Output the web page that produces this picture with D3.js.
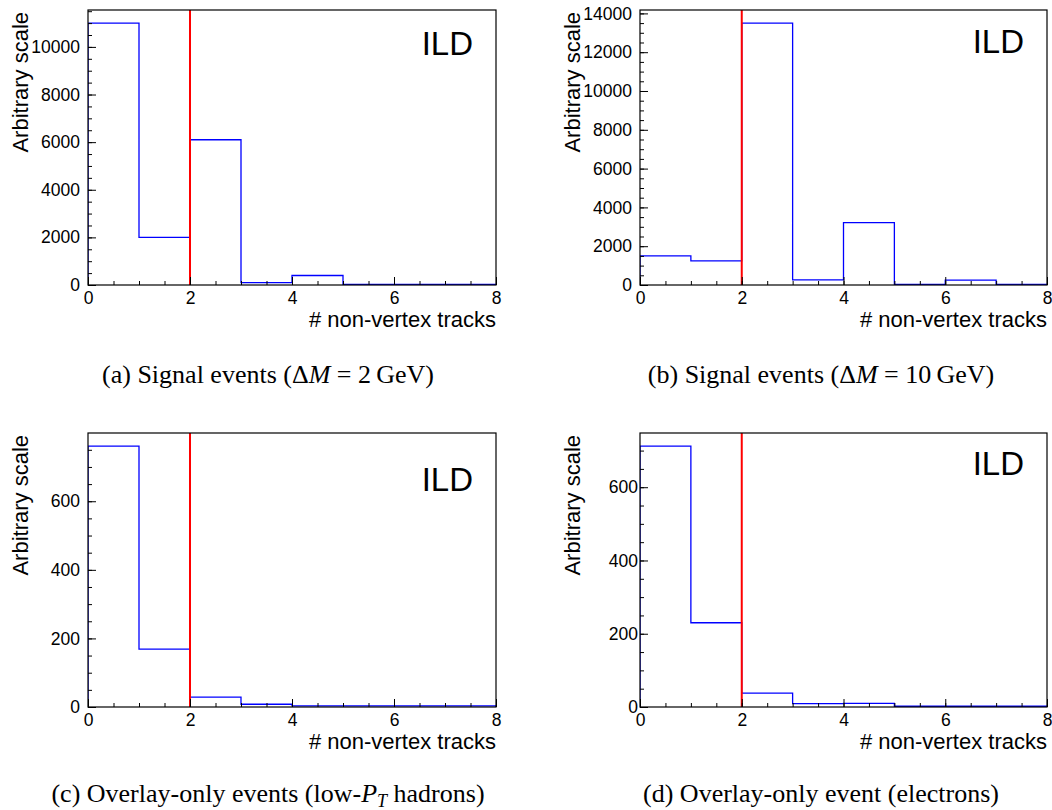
<!DOCTYPE html>
<html>
<head>
<meta charset="utf-8">
<script src="https://cdn.jsdelivr.net/npm/d3@7"></script>
<style>
  body { margin: 0; background: #fff; }
  svg text { font-family: "Liberation Sans", Arial, sans-serif; fill: #000; }
  .caption { font-family: "Liberation Serif", "Times New Roman", serif; font-size: 26px; }
</style>
</head>
<body>
<div class="svg-container"></div>
<script>
// bin contents, one array per panel (8 bins from 0 to 8)
const binsA = [11000, 2000, 6100, 100, 400, 30, 30, 30]
const binsB = [1500, 1240, 13500, 260, 3220, 30, 250, 30]
const binsC = [761, 169, 29, 8, 3, 3, 3, 3]
const binsD = [712, 230, 38, 9, 10, 2, 2, 2]

const yMax = [11550, 14175, 799, 748]
const yMajor = [
  [0, 2000, 4000, 6000, 8000, 10000],
  [0, 2000, 4000, 6000, 8000, 10000, 12000, 14000],
  [0, 200, 400, 600],
  [0, 200, 400, 600]
]
const yMinorStep = [500, 500, 50, 50]
const xMajor = [0, 2, 4, 6, 8]
const cutValue = 2

const width = 1052
const height = 810

// frame boxes of the four pads
const frames = [
  { x: 88, y: 10, w: 408, h: 275, labelGap: 8, ild: 45 },
  { x: 640, y: 10, w: 407, h: 275, labelGap: 8, ild: 43 },
  { x: 88, y: 433, w: 408, h: 274, labelGap: 8, ild: 58 },
  { x: 640, y: 433, w: 407, h: 274, labelGap: 2, ild: 42 }
]

const allBins = [binsA, binsB, binsC, binsD]

const svg = d3.select('.svg-container')
  .append('svg')
  .attr('width', width)
  .attr('height', height)

allBins.forEach((bins, k) => {
  const f = frames[k]
  const g = svg.append('g').attr('transform', `translate(${f.x}, ${f.y})`)

  const x = d3.scaleLinear().domain([0, 8]).range([0, f.w])
  const y = d3.scaleLinear().domain([0, yMax[k]]).range([f.h, 0])

  g.append('clipPath').attr('id', `clip${k}`)
    .append('rect').attr('width', f.w).attr('height', f.h)

  // histogram outline
  const pts = [[0, 0]].concat(bins.map((v, i) => [i, v]), [[8, bins[bins.length - 1]], [8, 0]])
  g.append('path')
    .attr('clip-path', `url(#clip${k})`)
    .attr('d', d3.line().x(d => x(d[0])).y(d => y(d[1])).curve(d3.curveStepAfter)(pts))
    .attr('fill', 'none')
    .attr('stroke', '#0000ff')
    .attr('stroke-width', 1.3)

  // cut line
  g.append('line')
    .attr('x1', x(cutValue)).attr('x2', x(cutValue))
    .attr('y1', y(0)).attr('y2', 0)
    .attr('stroke', '#ff0000')
    .attr('stroke-width', 2)

  // frame
  g.append('rect')
    .attr('width', f.w).attr('height', f.h)
    .attr('fill', 'none').attr('stroke', '#000').attr('stroke-width', 1.2)

  // x axis: minor then major
  const xMinor = d3.range(0, 8.01, 0.5)
  g.append('g')
    .attr('transform', `translate(0, ${f.h})`)
    .call(d3.axisBottom(x).tickValues(xMinor).tickSizeInner(-4).tickSizeOuter(0).tickFormat(''))
    .call(a => a.select('.domain').remove())
  g.append('g')
    .attr('transform', `translate(0, ${f.h})`)
    .call(d3.axisBottom(x).tickValues(xMajor).tickSizeInner(-8).tickSizeOuter(0).tickPadding(7))
    .call(a => a.select('.domain').remove())
    .selectAll('text').attr('font-size', 17.5).attr('font-family', 'Liberation Sans')

  // y axis
  const yMinor = d3.range(0, yMax[k], yMinorStep[k])
  g.append('g')
    .call(d3.axisLeft(y).tickValues(yMinor).tickSizeInner(-4).tickSizeOuter(0).tickFormat(''))
    .call(a => a.select('.domain').remove())
  g.append('g')
    .call(d3.axisLeft(y).tickValues(yMajor[k]).tickSizeInner(-8).tickSizeOuter(0).tickPadding(f.labelGap).tickFormat(d3.format('d')))
    .call(a => a.select('.domain').remove())
    .selectAll('text').attr('font-size', 17.5).attr('font-family', 'Liberation Sans')

  g.selectAll('.tick line').attr('stroke', '#000')

  // axis titles
  g.append('text')
    .attr('x', f.w).attr('y', f.h + 42)
    .attr('text-anchor', 'end')
    .attr('font-size', 22)
    .text('# non-vertex tracks')

  g.append('text')
    .attr('transform', 'translate(-60, 2) rotate(-90)')
    .attr('text-anchor', 'end')
    .attr('font-size', 22)
    .text('Arbitrary scale')

  g.append('text')
    .attr('x', f.w - 23).attr('y', f.ild)
    .attr('text-anchor', 'end')
    .attr('font-size', 33)
    .text('ILD')
})

// captions
const capA = svg.append('text').attr('class', 'caption').attr('x', 268).attr('y', 383).attr('text-anchor', 'middle')
capA.append('tspan').text('(a) Signal events (Δ')
capA.append('tspan').attr('font-style', 'italic').text('M')
capA.append('tspan').text(' = 2\u2009GeV)')

const capB = svg.append('text').attr('class', 'caption').attr('x', 821).attr('y', 383).attr('text-anchor', 'middle')
capB.append('tspan').text('(b) Signal events (Δ')
capB.append('tspan').attr('font-style', 'italic').text('M')
capB.append('tspan').text(' = 10\u2009GeV)')

const capC = svg.append('text').attr('class', 'caption').attr('x', 268).attr('y', 802).attr('text-anchor', 'middle')
capC.append('tspan').text('(c) Overlay-only events (low-')
capC.append('tspan').attr('font-style', 'italic').text('P')
capC.append('tspan').attr('font-style', 'italic').attr('font-size', 18).attr('dy', 5).text('T')
capC.append('tspan').attr('dy', -5).text(' hadrons)')

svg.append('text').attr('class', 'caption').attr('x', 821).attr('y', 802).attr('text-anchor', 'middle')
  .text('(d) Overlay-only event (electrons)')
</script>
</body>
</html>
